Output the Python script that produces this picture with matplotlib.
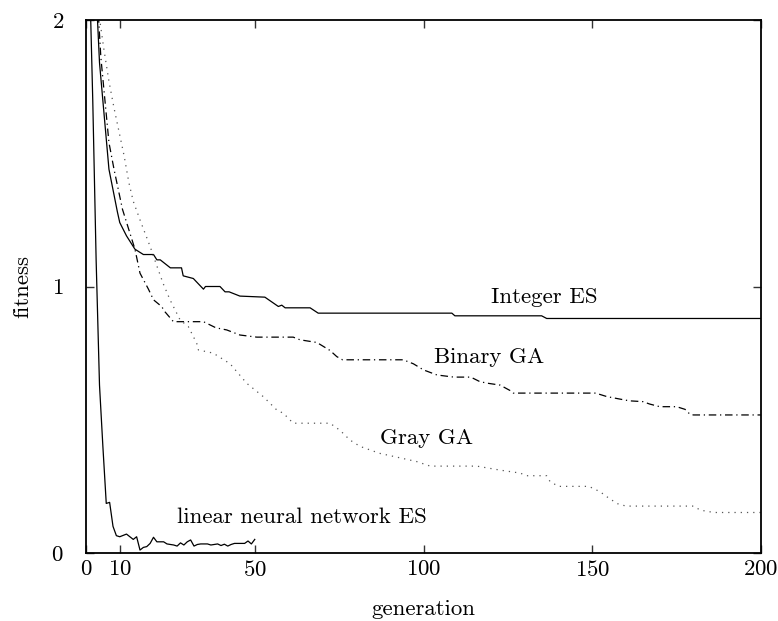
import matplotlib
matplotlib.use("Agg")
import matplotlib.pyplot as plt

plt.rcParams['font.family'] = ['cmr10', 'DejaVu Serif']
plt.rcParams['axes.formatter.use_mathtext'] = True
plt.rcParams['mathtext.fontset'] = 'cm'

# Integer ES (solid)
int_gen = [1, 4, 6.8, 9.3, 10, 12, 14.5, 17, 20, 21, 22, 25, 28.3, 28.8, 31.8,
           34.8, 35.4, 39.7, 41.2, 42.4, 45.6, 53, 57, 58, 59, 66.4, 68.8,
           108.4, 109.3, 135, 136.5, 200]
int_fit = [2.65, 1.84, 1.44, 1.28, 1.24, 1.19, 1.14, 1.12, 1.12, 1.10, 1.10,
           1.07, 1.07, 1.04, 1.03, 0.99, 1.0, 1.0, 0.98, 0.98, 0.964, 0.96,
           0.925, 0.93, 0.92, 0.92, 0.90, 0.90, 0.89, 0.89, 0.88, 0.88]

# Binary GA (dash-dot)
bin_gen = [1, 4.4, 6.8, 8.3, 10.8, 14.5, 15, 16, 18.5, 20, 22.4, 23.4, 25.9,
           34.8, 38.5, 41.7, 45.6, 50.6, 61.4, 63.4, 68.4, 72.3, 74.3, 76, 94,
           97, 100, 104, 109, 114, 116.7, 119, 122.7, 125.6, 126.6, 151, 154.3,
           158, 161, 165, 167, 170, 175, 177.5, 179, 180, 200]
bin_fit = [2.6, 1.86, 1.54, 1.44, 1.29, 1.14, 1.11, 1.05, 0.99, 0.95, 0.925,
           0.905, 0.868, 0.868, 0.845, 0.837, 0.818, 0.81, 0.81, 0.80, 0.79,
           0.76, 0.737, 0.725, 0.725, 0.71, 0.687, 0.668, 0.66, 0.66, 0.643,
           0.637, 0.63, 0.61, 0.60, 0.60, 0.587, 0.578, 0.571, 0.568, 0.559,
           0.549, 0.549, 0.539, 0.52, 0.518, 0.518]

# Gray GA (dotted)
gray_gen = [0, 4.3, 5.3, 6.8, 8.3, 9.8, 11.3, 12.7, 14, 16, 19, 21.2, 22.9,
            24.9, 27.9, 30.3, 32.8, 33.3, 37.7, 42.7, 47.6, 52.5, 56.5, 58.5,
            61.4, 72.3, 75.3, 78.2, 81.2, 87, 92, 98, 102, 115.8, 122.7, 128.6,
            130.6, 136.5, 137.5, 140, 149, 152.3, 155, 157.5, 160, 180, 182,
            186, 200]
gray_fit = [2.37, 1.98, 1.89, 1.77, 1.67, 1.58, 1.49, 1.39, 1.32, 1.25, 1.15,
            1.07, 1.01, 0.95, 0.874, 0.85, 0.787, 0.762, 0.75, 0.71, 0.637,
            0.587, 0.537, 0.524, 0.487, 0.487, 0.46, 0.424, 0.40, 0.374, 0.36,
            0.343, 0.326, 0.326, 0.311, 0.30, 0.29, 0.29, 0.268, 0.25, 0.25,
            0.23, 0.205, 0.185, 0.176, 0.176, 0.161, 0.152, 0.152]

# linear neural network ES (solid), generations 0..50
nn_fit = [3.0, 2.2, 1.7, 1.1, 0.63, 0.4, 0.186, 0.19, 0.10, 0.065, 0.061,
          0.066, 0.071, 0.061, 0.051, 0.061, 0.011, 0.021, 0.024, 0.036,
          0.059, 0.042, 0.042, 0.042, 0.034, 0.032, 0.03, 0.026, 0.038, 0.03,
          0.042, 0.049, 0.026, 0.032, 0.034, 0.034, 0.034, 0.03, 0.032, 0.034,
          0.028, 0.033, 0.026, 0.032, 0.036, 0.036, 0.036, 0.036, 0.045,
          0.034, 0.051]
nn_gen = list(range(len(nn_fit)))

x_ticks = [0, 10, 50, 100, 150, 200]
y_ticks = [0, 1, 2]

fs = 16.5
fig = plt.figure(figsize=(7.78, 6.21), dpi=100)
ax = fig.add_axes([86/778, 68/621, 675/778, 533/621])

lw = 0.9
ax.plot(int_gen, int_fit, color='black', lw=lw)
ax.plot(bin_gen, bin_fit, color='black', lw=lw, dashes=(6, 3, 1, 3))
ax.plot(gray_gen, gray_fit, color='#555555', lw=lw, dashes=(1, 4))
ax.plot(nn_gen, nn_fit, color='black', lw=lw)

ax.set_xlim(0, 200)
ax.set_ylim(0, 2)
ax.set_xticks(x_ticks)
ax.set_yticks(y_ticks)
ax.tick_params(direction='in', length=6, width=1, top=True, right=True,
               labelsize=fs, color='#333333')
ax.tick_params(axis='x', pad=5)
ax.tick_params(axis='y', pad=16)
for s in ax.spines.values():
    s.set_linewidth(1.3)

ax.set_xlabel('generation', fontsize=fs, labelpad=14)
ax.set_ylabel('fitness', fontsize=fs, labelpad=14)

ax.text(120, 0.96, 'Integer ES', fontsize=fs, ha='left', va='center')
ax.text(103, 0.735, 'Binary GA', fontsize=fs, ha='left', va='center')
ax.text(87, 0.43, 'Gray GA', fontsize=fs, ha='left', va='center')
ax.text(27, 0.135, 'linear neural network ES', fontsize=fs, ha='left', va='center')

fig.savefig('out.png', dpi=100)
